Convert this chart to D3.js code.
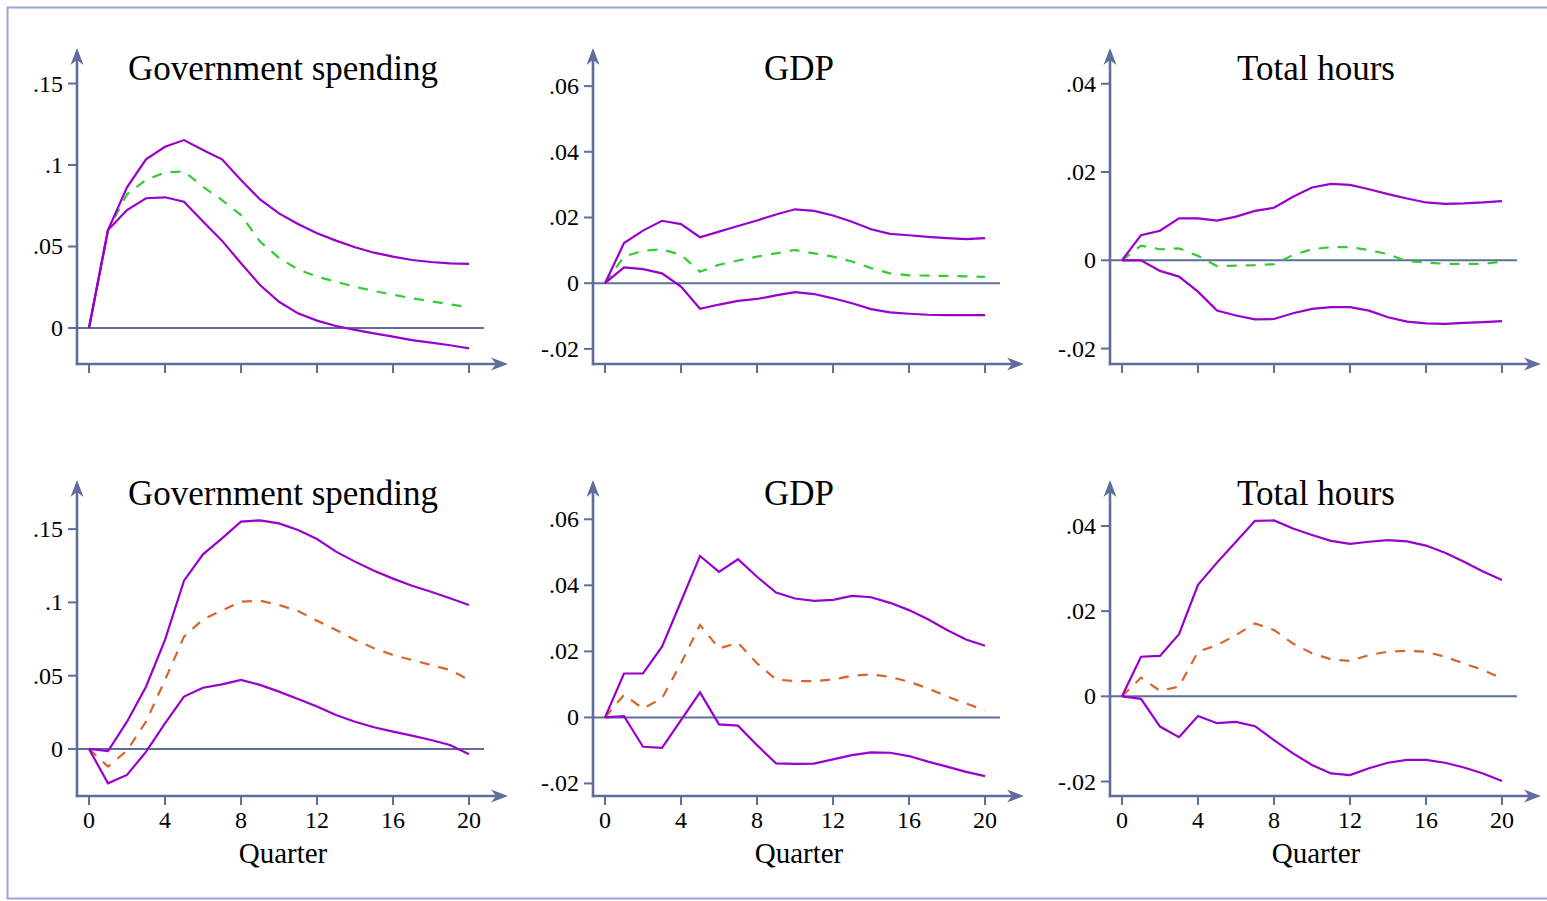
<!DOCTYPE html>
<html>
<head>
<meta charset="utf-8">
<script src="https://cdn.jsdelivr.net/npm/d3@7"></script>
<style>
  html, body { margin: 0; padding: 0; background: #fff; }
  svg { display: block; }
  text { font-family: "Liberation Serif", "DejaVu Serif", serif; fill: #000; }
</style>
</head>
<body>
<svg id="svg" width="1547" height="901"></svg>
<script>
// quarters on the x axis
const quarters = d3.range(0, 21)
const xTicks = [0, 4, 8, 12, 16, 20]

const titles = ['Government spending', 'GDP', 'Total hours']

// y ticks for each panel (top row then bottom row)
const yTicks = [
  [0, 0.05, 0.1, 0.15],
  [-0.02, 0, 0.02, 0.04, 0.06],
  [-0.02, 0, 0.02, 0.04],
  [0, 0.05, 0.1, 0.15],
  [-0.02, 0, 0.02, 0.04, 0.06],
  [-0.02, 0, 0.02, 0.04]
]
const yTickLabels = [
  ['0', '.05', '.1', '.15'],
  ['-.02', '0', '.02', '.04', '.06'],
  ['-.02', '0', '.02', '.04'],
  ['0', '.05', '.1', '.15'],
  ['-.02', '0', '.02', '.04', '.06'],
  ['-.02', '0', '.02', '.04']
]

// top row: government spending
const govTopUpper = [0, 0.0601, 0.0863, 0.1035, 0.1112, 0.1153, 0.1092, 0.1035, 0.0908, 0.0789, 0.0703,
  0.0638, 0.0581, 0.0536, 0.0495, 0.0462, 0.0438, 0.0417, 0.0405, 0.0397, 0.0393]
const govTopMid = [0, 0.0601, 0.082, 0.0908, 0.0955, 0.096, 0.0867, 0.0785, 0.0693, 0.053, 0.043,
  0.036, 0.0315, 0.0284, 0.0253, 0.0227, 0.0204, 0.0182, 0.0164, 0.0145, 0.0127]
const govTopLower = [0, 0.0601, 0.0724, 0.0796, 0.0802, 0.0775, 0.0654, 0.0536, 0.0397, 0.0264, 0.0161,
  0.009, 0.0045, 0.0012, -0.0012, -0.0033, -0.0053, -0.0074, -0.009, -0.0106, -0.0125]

// top row: GDP
const gdpTopUpper = [0, 0.0122, 0.016, 0.019, 0.018, 0.014, 0.0157, 0.0174, 0.0191, 0.0209, 0.0225,
  0.022, 0.0206, 0.0187, 0.0164, 0.015, 0.0146, 0.0141, 0.0137, 0.0134, 0.0137]
const gdpTopMid = [0, 0.0081, 0.0099, 0.0103, 0.0086, 0.0035, 0.0056, 0.0069, 0.0081, 0.0091, 0.0101,
  0.0091, 0.0081, 0.0066, 0.0046, 0.003, 0.0024, 0.0023, 0.0022, 0.0021, 0.0019]
const gdpTopLower = [0, 0.0048, 0.0043, 0.003, -0.001, -0.0078, -0.0065, -0.0054, -0.0048, -0.0037, -0.0027,
  -0.0033, -0.0046, -0.0061, -0.0079, -0.0089, -0.0093, -0.0096, -0.0097, -0.0097, -0.0097]

// top row: total hours
const hoursTopUpper = [0, 0.0057, 0.0067, 0.0095, 0.0095, 0.009, 0.0099, 0.0112, 0.0119, 0.0144, 0.0165,
  0.0173, 0.0171, 0.0161, 0.015, 0.014, 0.0131, 0.0128, 0.0129, 0.0131, 0.0134]
const hoursTopMid = [0, 0.0033, 0.0025, 0.0027, 0.001, -0.0013, -0.0012, -0.0011, -0.0009, 0.0012, 0.0025,
  0.003, 0.003, 0.0023, 0.0014, -0.0002, -0.0005, -0.0008, -0.0008, -0.0008, -0.0003]
const hoursTopLower = [0, 0, -0.0024, -0.0037, -0.0071, -0.0114, -0.0125, -0.0134, -0.0133, -0.012, -0.011,
  -0.0106, -0.0106, -0.0114, -0.0129, -0.0139, -0.0143, -0.0144, -0.0142, -0.014, -0.0138]

// bottom row: government spending
const govBotUpper = [0, -0.0014, 0.0186, 0.0425, 0.0744, 0.1148, 0.1328, 0.1437, 0.1551, 0.156, 0.1539,
  0.1494, 0.1432, 0.1346, 0.1278, 0.1216, 0.1162, 0.1114, 0.1073, 0.1028, 0.0982]
const govBotMid = [0, -0.012, -0.0011, 0.0186, 0.0471, 0.0766, 0.0884, 0.0944, 0.1005, 0.1012, 0.0982,
  0.0941, 0.0875, 0.0812, 0.0744, 0.0687, 0.0641, 0.0607, 0.0573, 0.0539, 0.0471]
const govBotLower = [0, -0.0234, -0.0177, -0.002, 0.0175, 0.0357, 0.0418, 0.0441, 0.0471, 0.0437, 0.0391,
  0.0341, 0.0289, 0.0232, 0.0186, 0.0148, 0.0118, 0.0091, 0.0061, 0.0027, -0.0036]

// bottom row: GDP
const gdpBotUpper = [0, 0.0133, 0.0133, 0.0214, 0.0351, 0.0489, 0.0441, 0.0479, 0.0426, 0.0378, 0.036,
  0.0353, 0.0356, 0.0368, 0.0364, 0.0347, 0.0325, 0.0297, 0.0265, 0.0236, 0.0217]
const gdpBotMid = [0, 0.0068, 0.0027, 0.0058, 0.0164, 0.028, 0.0209, 0.0226, 0.0164, 0.0115, 0.011,
  0.011, 0.0115, 0.0126, 0.013, 0.0123, 0.0108, 0.0088, 0.0063, 0.0042, 0.0022]
const gdpBotLower = [0, 0.0004, -0.0089, -0.0092, -0.0008, 0.0076, -0.0021, -0.0025, -0.0084, -0.0139, -0.0141,
  -0.014, -0.0127, -0.0114, -0.0106, -0.0107, -0.0117, -0.0134, -0.0149, -0.0165, -0.0178]

// bottom row: total hours
const hoursBotUpper = [0, 0.0093, 0.0095, 0.0146, 0.0262, 0.0314, 0.0363, 0.0412, 0.0413, 0.0394, 0.0379,
  0.0365, 0.0358, 0.0363, 0.0367, 0.0364, 0.0354, 0.0337, 0.0316, 0.0293, 0.0273]
const hoursBotMid = [0, 0.0044, 0.0013, 0.0023, 0.0105, 0.012, 0.0144, 0.0171, 0.0156, 0.0124, 0.0101,
  0.0087, 0.0083, 0.0097, 0.0105, 0.0107, 0.0105, 0.0093, 0.0077, 0.0062, 0.0042]
const hoursBotLower = [0, -0.0006, -0.0071, -0.0096, -0.0046, -0.0063, -0.006, -0.007, -0.0103, -0.0134, -0.0161,
  -0.0181, -0.0185, -0.0169, -0.0156, -0.0149, -0.0149, -0.0156, -0.0167, -0.0181, -0.0199]

const panelSeries = [
  [govTopUpper, govTopMid, govTopLower],
  [gdpTopUpper, gdpTopMid, gdpTopLower],
  [hoursTopUpper, hoursTopMid, hoursTopLower],
  [govBotUpper, govBotMid, govBotLower],
  [gdpBotUpper, gdpBotMid, gdpBotLower],
  [hoursBotUpper, hoursBotMid, hoursBotLower]
]

// y extent covered by each axis (from x axis up to arrow tip)
const yDomains = [
  [-0.0221, 0.1718], [-0.0246, 0.0716], [-0.0235, 0.0481],
  [-0.0321, 0.1835], [-0.0238, 0.0719], [-0.0234, 0.0508]
]

const axisColor = '#5d6d9c'
const bandColor = '#9a00cc'
const midColors = ['#33cc33', '#d9652a'] // top row, bottom row

const colX = [89, 605, 1122]       // x of quarter 0
const rowAxisY = [364, 796]        // x axis line
const rowTipY = [48, 480]          // y arrow tip
const rowTitleY = [80, 505]

const svg = d3.select('#svg')

// outer frame
svg.append('rect')
  .attr('x', 7.5).attr('y', 7.5)
  .attr('width', 1560).attr('height', 891)
  .attr('fill', 'none')
  .attr('stroke', '#97a5d2')
  .attr('stroke-width', 2)

panelSeries.forEach((series, p) => {
  const row = Math.floor(p / 3)
  const col = p % 3
  const axisY = rowAxisY[row]
  const tipY = rowTipY[row]

  const x = d3.scaleLinear().domain([0, 20]).range([colX[col], colX[col] + 380])
  const y = d3.scaleLinear().domain(yDomains[p]).range([axisY, tipY])

  const g = svg.append('g')
  const yAxisX = x(0) - 12
  const xEnd = x(20) + 39

  // zero line
  g.append('line')
    .attr('x1', yAxisX).attr('x2', x(20) + 15)
    .attr('y1', y(0)).attr('y2', y(0))
    .attr('stroke', axisColor).attr('stroke-width', 2)

  // y axis with arrow
  g.append('line')
    .attr('x1', yAxisX).attr('x2', yAxisX)
    .attr('y1', axisY + 1.2).attr('y2', tipY + 10)
    .attr('stroke', axisColor).attr('stroke-width', 2.6)
  g.append('path')
    .attr('d', `M${yAxisX},${tipY} L${yAxisX - 6.5},${tipY + 17} L${yAxisX},${tipY + 12} L${yAxisX + 6.5},${tipY + 17} Z`)
    .attr('fill', axisColor)

  // x axis with arrow
  g.append('line')
    .attr('x1', yAxisX - 1.2).attr('x2', xEnd - 10)
    .attr('y1', axisY).attr('y2', axisY)
    .attr('stroke', axisColor).attr('stroke-width', 2.6)
  g.append('path')
    .attr('d', `M${xEnd},${axisY} L${xEnd - 17},${axisY - 6.5} L${xEnd - 12},${axisY} L${xEnd - 17},${axisY + 6.5} Z`)
    .attr('fill', axisColor)

  // x ticks
  g.selectAll('.xt')
    .data(xTicks)
    .enter()
    .append('line')
    .attr('x1', d => x(d)).attr('x2', d => x(d))
    .attr('y1', axisY).attr('y2', axisY + 9)
    .attr('stroke', axisColor).attr('stroke-width', 2)

  if (row === 1) {
    g.selectAll('.xl')
      .data(xTicks)
      .enter()
      .append('text')
      .attr('x', d => x(d))
      .attr('y', axisY + 32)
      .attr('text-anchor', 'middle')
      .attr('font-size', 24)
      .text(d => d)
    g.append('text')
      .attr('x', (x(0) + x(20)) / 2 + 4)
      .attr('y', axisY + 67)
      .attr('text-anchor', 'middle')
      .attr('font-size', 29)
      .text('Quarter')
  }

  // y ticks
  g.selectAll('.yt')
    .data(yTicks[p])
    .enter()
    .append('line')
    .attr('x1', yAxisX - 9).attr('x2', yAxisX)
    .attr('y1', d => y(d)).attr('y2', d => y(d))
    .attr('stroke', axisColor).attr('stroke-width', 2)
  g.selectAll('.yl')
    .data(yTicks[p])
    .enter()
    .append('text')
    .attr('x', yAxisX - 14)
    .attr('y', d => y(d) + 8)
    .attr('text-anchor', 'end')
    .attr('font-size', 24)
    .text((d, i) => yTickLabels[p][i])

  // title
  g.append('text')
    .attr('x', (x(0) + x(20)) / 2 + 4)
    .attr('y', rowTitleY[row])
    .attr('text-anchor', 'middle')
    .attr('font-size', 35)
    .text(titles[col])

  const line = d3.line()
    .x((d, i) => x(quarters[i]))
    .y(d => y(d))

  // point estimate first, bands drawn over it
  g.append('path')
    .attr('d', line(series[1]))
    .attr('fill', 'none').attr('stroke', midColors[row]).attr('stroke-width', 2.2)
    .attr('stroke-dasharray', '10,9')
  g.append('path')
    .attr('d', line(series[0]))
    .attr('fill', 'none').attr('stroke', bandColor).attr('stroke-width', 2.2)
  g.append('path')
    .attr('d', line(series[2]))
    .attr('fill', 'none').attr('stroke', bandColor).attr('stroke-width', 2.2)
})
</script>
</body>
</html>
